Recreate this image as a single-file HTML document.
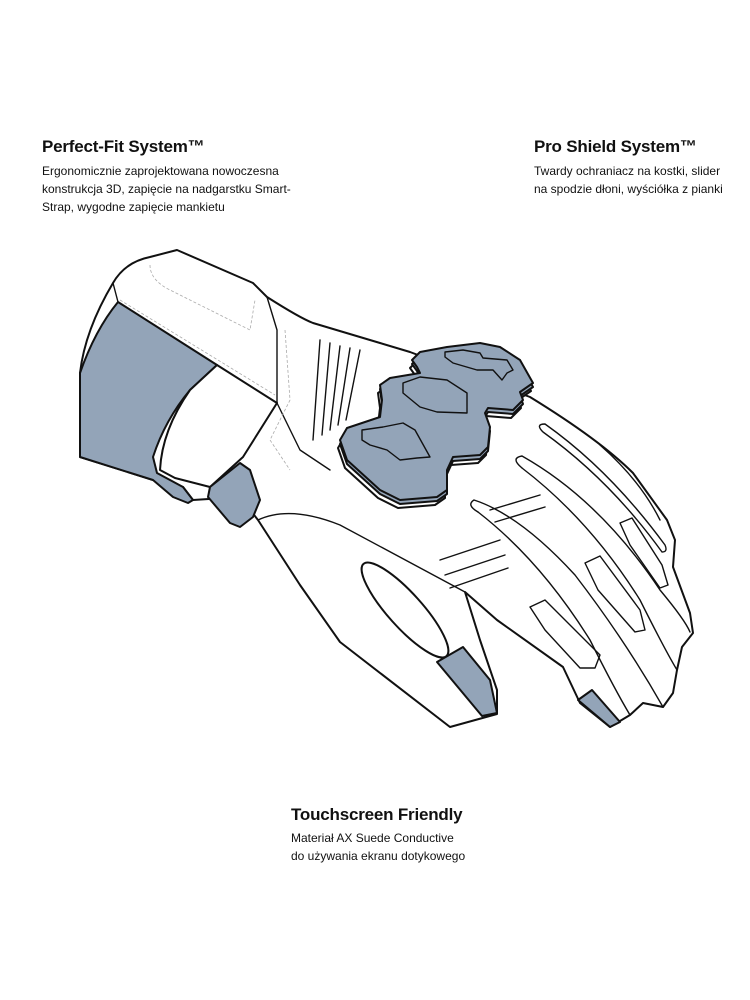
<!DOCTYPE html>
<html><head><meta charset="utf-8"><style>
body{margin:0;width:750px;height:1000px;background:#fff;position:relative;overflow:hidden;font-family:"Liberation Sans",sans-serif;color:#111}
.t{position:absolute;font-weight:bold;font-size:17px;letter-spacing:-0.2px}
.b{position:absolute;font-size:12px;line-height:18px}
svg{position:absolute;left:0;top:0}
</style></head><body>
<div class="t" style="left:42px;top:137px">Perfect-Fit System™</div>
<div class="b" style="left:42px;top:162px">Ergonomicznie zaprojektowana nowoczesna<br>konstrukcja 3D, zapięcie na nadgarstku Smart-<br>Strap, wygodne zapięcie mankietu</div>
<div class="t" style="left:534px;top:137px">Pro Shield System™</div>
<div class="b" style="left:534px;top:162px">Twardy ochraniacz na kostki, slider<br>na spodzie dłoni, wyściółka z pianki</div>
<div class="t" style="left:291px;top:805px">Touchscreen Friendly</div>
<div class="b" style="left:291px;top:829px">Materiał AX Suede Conductive<br>do używania ekranu dotykowego</div>
<svg width="750" height="1000" viewBox="0 0 750 1000">
<defs>
<path id="g" d="M412,360 L420,352 L447,347 L480,343 L500,347 L520,360 L533,383 L520,392 L523,400 L513,410 L488,408 L485,413 L490,427 L488,447 L480,455 L453,457 L447,470 L447,490 L437,497 L400,500 L380,490 L347,460 L340,440 L347,428 L380,417 L382,400 L380,385 L390,378 L420,373 L417,367 Z"/>
</defs>
<g stroke="#111" stroke-width="2" stroke-linejoin="round" fill="#fff">
<path d="M113,283 Q125,262 150,257 L177,250 L253,283 L267,297 Q300,318 313,323 L380,343 L410,352 L530,397 Q600,440 633,473 L667,520 L675,540 L673,567 L690,613 L693,633 L682,647 L677,670 L673,693 L663,707 L643,703 L630,715 L610,727 L580,703 L563,667 L497,620 L465,592 L480,640 L497,690 L497,714 L450,727 L340,642 L300,585 L258,520 L240,497 L193,500 L183,487 L153,480 L80,457 L80,373 Q85,330 113,283 Z"/>
<path d="M578,700 L592,690 L620,722 L610,727 Z" fill="#93a4b8"/>
<ellipse cx="405" cy="610" rx="62" ry="17" transform="rotate(48 405 610)"/>
<path d="M437,662 L463,647 L490,680 L497,713 L482,716 Z" fill="#93a4b8"/>
<path d="M118,302 L217,365 L190,390 Q165,420 153,457 L157,473 L183,487 L193,500 L188,503 L173,497 L153,480 L80,457 L80,373 Q95,330 118,302 Z" fill="#93a4b8"/>
<path d="M217,365 L277,403 L243,457 L210,487 L175,478 L160,470 Q162,430 190,390 Z" fill="#fff"/>
<path d="M208,497 L210,487 L240,463 L250,470 L260,500 L253,517 L240,527 L230,523 Z" fill="#93a4b8"/>
<use href="#g" transform="translate(-2,8)" fill="#fff"/>
<use href="#g" transform="translate(0,4)" fill="#93a4b8"/>
<use href="#g" fill="#93a4b8"/>
</g>
<g stroke="#111" stroke-width="1.4" fill="none" stroke-linecap="round" stroke-linejoin="round">
<path d="M362,430 L383,427 L403,423 L415,430 L430,457 L417,458 L400,460 L387,450 L370,445 L362,440 Z"/>
<path d="M403,383 L420,377 L447,380 L467,393 L467,413 L437,412 L420,407 L403,393 Z"/>
<path d="M445,352 L463,350 L480,353 L483,358 L507,360 L513,370 L507,373 L502,380 L493,370 L477,370 L453,363 L445,357 Z"/>
<path d="M118,302 L113,283"/>
<path d="M258,520 Q290,505 340,525 L465,592"/>
<path d="M478,512 Q466,505 474,500 Q520,515 575,575 Q625,640 663,707"/>
<path d="M478,512 Q540,560 590,640 Q615,690 630,715"/>
<path d="M522,468 Q510,458 522,456 Q600,500 660,590 Q685,620 690,632"/>
<path d="M522,468 Q590,520 640,600 Q665,650 677,670"/>
<path d="M543,432 Q535,424 545,424 Q610,470 665,545 Q668,552 662,552 Q610,480 543,432"/>
<path d="M600,445 Q640,480 660,520"/>
<path d="M267,297 L277,330 L277,403 L300,450 L330,470"/>
<path d="M320,340 L313,440 M330,343 L322,435 M340,346 L330,430 M350,348 L338,425 M360,350 L346,420"/>
<path d="M440,560 L500,540 M445,575 L505,555 M450,588 L508,568"/>
<path d="M490,510 L540,495 M495,522 L545,507"/>
<path d="M530,607 L545,600 L600,655 L595,668 L580,668 L545,630 Z"/>
<path d="M585,563 L600,556 L640,610 L645,630 L635,632 L598,590 Z"/>
<path d="M620,523 L632,518 L662,565 L668,585 L660,588 L630,545 Z"/>
</g>
<g stroke="#aaa" stroke-width="0.8" stroke-dasharray="3,2" fill="none">
<path d="M120,300 L275,395 M150,265 Q150,280 170,290 L250,330 L255,300"/>
<path d="M285,330 L290,400 L270,440 L290,470"/>
</g>
</svg>
</body></html>
